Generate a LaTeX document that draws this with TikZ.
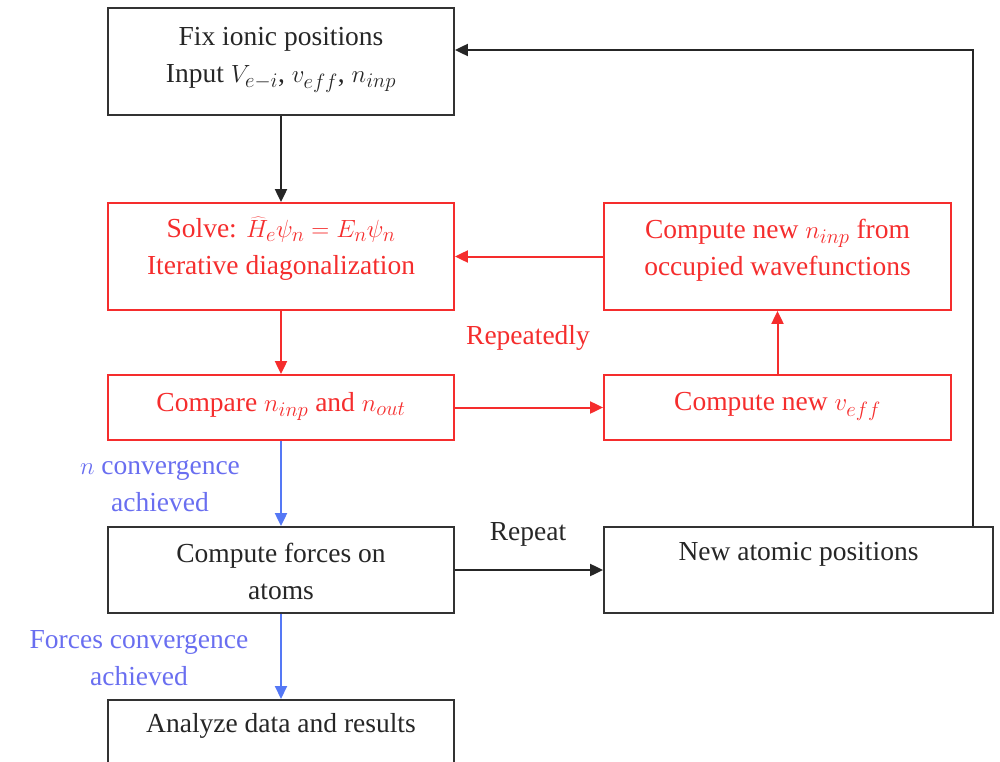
\documentclass[tikz,border=0pt]{standalone}
\usepackage{fontspec}
\setmainfont{Liberation Serif}
\usetikzlibrary{arrows.meta}
\definecolor{myred}{RGB}{245,45,45}
\definecolor{myblue}{RGB}{85,120,245}
\definecolor{mytblue}{RGB}{105,110,240}
\definecolor{mygray}{RGB}{50,50,50}
\begin{document}
\begin{tikzpicture}[x=1pt,y=-1pt,
  box/.style={draw=mygray,line width=1.8pt,rectangle,inner sep=0pt},
  rbox/.style={box,draw=myred},
  txt/.style={align=center,inner sep=0pt,font=\fontsize{27.5}{37}\selectfont},
  arr/.style={line width=2pt,-{Triangle[length=13pt,width=12pt]}},
  lbl/.style={font=\fontsize{27.5}{37}\selectfont,align=center}]
\useasboundingbox (0,0) rectangle (1000,762);
\clip (0,0) rectangle (1000,762);
% boxes
\node[box,minimum width=346,minimum height=107] (fix) at (281,61.5) {};
\node[rbox,minimum width=346,minimum height=107] (solve) at (281,256.5) {};
\node[rbox,minimum width=347,minimum height=107] (cnew) at (777.5,256.5) {};
\node[rbox,minimum width=346,minimum height=65] (cmp) at (281,407.5) {};
\node[rbox,minimum width=347,minimum height=65] (veff) at (777.5,407.5) {};
\node[box,minimum width=346,minimum height=86] (forces) at (281,570) {};
\node[box,minimum width=389,minimum height=86] (newpos) at (798.5,570) {};
\node[box,minimum width=346,minimum height=100,anchor=north] (anal) at (281,699) {};
% texts
\node[txt,text=black!85] (fixT) at (281,60) {Fix ionic positions\\ Input $V_{e-i}$, $v_{eff}$, $n_{inp}$};
\node[txt,text=myred] (solveT) at (281,249) {Solve: $\widehat{H}_e\psi_n = E_n\psi_n$\\ Iterative diagonalization};
\node[txt,text=myred] (cnewT) at (777.5,250) {Compute new $n_{inp}$ from\\ occupied wavefunctions};
\node[txt,text=myred] (cmpT) at (281,406) {Compare $n_{inp}$ and $n_{out}$};
\node[txt,text=myred] (veffT) at (777.5,406) {Compute new $v_{eff}$};
\node[txt,text=black!85] (forcesT) at (281,571) {Compute forces on\\ atoms};
\node[txt,text=black!85] (newposT) at (798.5,554) {New atomic positions};
\node[txt,text=black!85] (analT) at (281,726) {Analyze data and results};
% connectors
\draw[arr,draw=black!85] (fix) -- (solve);
\draw[arr,draw=myred] (cnew) -- (solve);
\draw[arr,draw=myred] (solve) -- (cmp);
\draw[arr,draw=myred] (cmp) -- (veff);
\draw[arr,draw=myred] (veff) -- (cnew);
\draw[arr,draw=myblue] (cmp) -- (forces);
\draw[arr,draw=black!85] (forces) -- (newpos);
\draw[arr,draw=myblue] (forces.south) -- (anal.north);
\coordinate (up) at (973,50);
\draw[arr,draw=black!85] (newpos.north -| up) -- (up) -- (up -| fix.east);
% labels
\node[lbl,text=myred] (rep1) at (528,338) {Repeatedly};
\node[lbl,text=black!85] (rep2) at (528,534) {Repeat};
\node[lbl,text=mytblue] (nconv) at (160,486) {$n$ convergence\\ achieved};
\node[lbl,text=mytblue] (fconv) at (139,658) {Forces convergence\\ achieved};
\end{tikzpicture}
\end{document}
